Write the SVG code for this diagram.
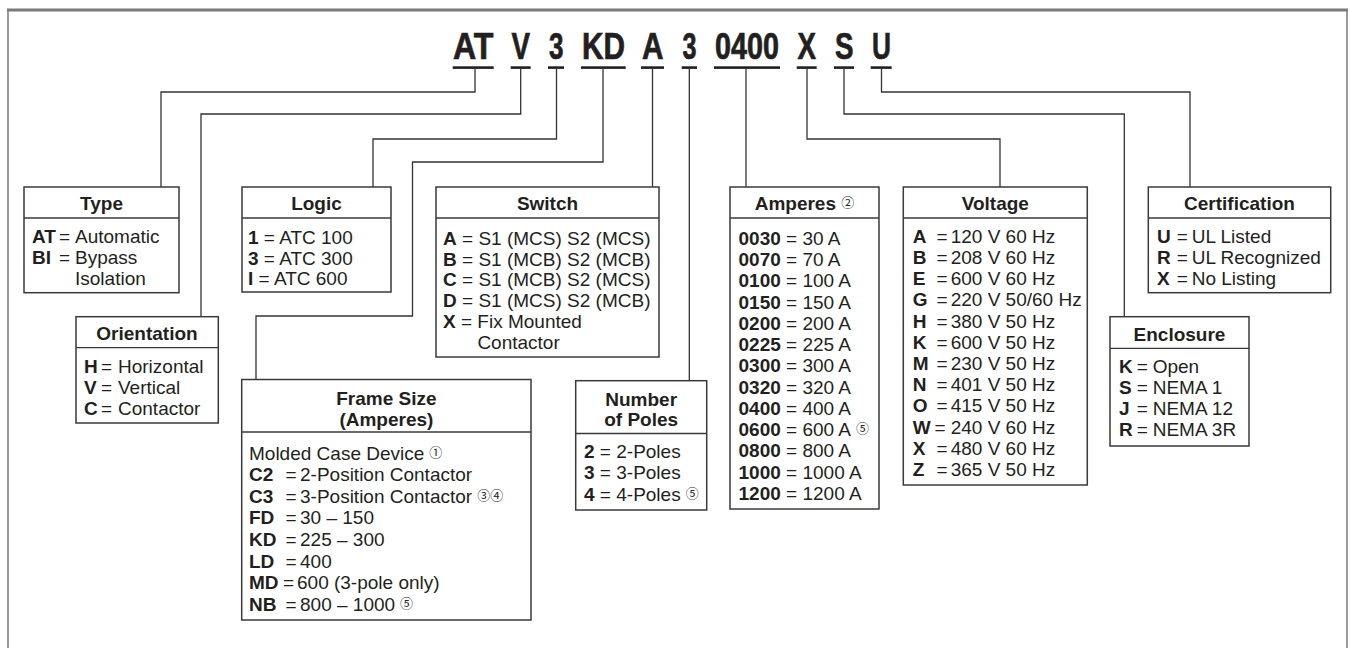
<svg xmlns="http://www.w3.org/2000/svg" width="1350" height="648" viewBox="0 0 1350 648">
<style>
.frame{fill:none;stroke:#7a7a7a;stroke-width:1.5}
.box{fill:#fff;stroke:#3a3a3a;stroke-width:1.5}
.sep{stroke:#3a3a3a;stroke-width:1.3}
.conn{fill:none;stroke:#333;stroke-width:1.3}
.code{font-family:"Liberation Sans",Arial,sans-serif;font-weight:bold;font-size:36px;fill:#231f20;stroke:#231f20;stroke-width:0.7}
.ul{fill:#231f20}
.h{font-family:"Liberation Sans",Arial,sans-serif;font-weight:bold;font-size:19px;fill:#231f20;text-anchor:middle}
.t{font-family:"Liberation Sans",Arial,sans-serif;font-size:19px;fill:#231f20}
.b{font-weight:bold}
.c{font-family:"Noto Sans CJK JP","DejaVu Sans",sans-serif;font-size:13px;font-weight:normal}
</style>
<rect x="8" y="10" width="1339" height="700" class="frame"/>
<line x1="7" y1="10" x2="1348" y2="10" stroke="#7a7a7a" stroke-width="3"/>

<g id="code">
<text class="code" x="453" y="59" textLength="40.5" lengthAdjust="spacingAndGlyphs">AT</text>
<text class="code" x="511.5" y="59" textLength="18.5" lengthAdjust="spacingAndGlyphs">V</text>
<text class="code" x="549" y="59" textLength="14.5" lengthAdjust="spacingAndGlyphs">3</text>
<text class="code" x="582" y="59" textLength="43" lengthAdjust="spacingAndGlyphs">KD</text>
<text class="code" x="642" y="59" textLength="21.5" lengthAdjust="spacingAndGlyphs">A</text>
<text class="code" x="682.5" y="59" textLength="14" lengthAdjust="spacingAndGlyphs">3</text>
<text class="code" x="715" y="59" textLength="64" lengthAdjust="spacingAndGlyphs">0400</text>
<text class="code" x="797.5" y="59" textLength="18.5" lengthAdjust="spacingAndGlyphs">X</text>
<text class="code" x="835" y="59" textLength="18.5" lengthAdjust="spacingAndGlyphs">S</text>
<text class="code" x="872" y="59" textLength="19" lengthAdjust="spacingAndGlyphs">U</text>
<rect class="ul" x="452.7" y="66.3" width="41" height="2.6"/>
<rect class="ul" x="510.7" y="66.3" width="20" height="2.6"/>
<rect class="ul" x="548" y="66.3" width="16" height="2.6"/>
<rect class="ul" x="581" y="66.3" width="44.7" height="2.6"/>
<rect class="ul" x="641" y="66.3" width="23" height="2.6"/>
<rect class="ul" x="681.7" y="66.3" width="15.3" height="2.6"/>
<rect class="ul" x="714" y="66.3" width="66" height="2.6"/>
<rect class="ul" x="796.7" y="66.3" width="20" height="2.6"/>
<rect class="ul" x="834" y="66.3" width="20" height="2.6"/>
<rect class="ul" x="870.7" y="66.3" width="21" height="2.6"/>
</g>

<g id="connectors">
<path class="conn" d="M475,68 V92 H161 V187"/>
<path class="conn" d="M520.7,68 V114 H201 V316.7"/>
<path class="conn" d="M556.5,68 V139 H373 V187"/>
<path class="conn" d="M603,68 V162 H412.5 V316 H256 V379.5"/>
<path class="conn" d="M652.5,68 V187"/>
<path class="conn" d="M689.3,68 V380.7"/>
<path class="conn" d="M746,68 V187"/>
<path class="conn" d="M807,68 V139 H1000 V187"/>
<path class="conn" d="M844,68 V114 H1124.3 V316.7"/>
<path class="conn" d="M881.5,68 V92 H1190 V187"/>
</g>

<g id="type">
<rect class="box" x="24" y="187" width="155" height="105.7"/>
<line class="sep" x1="24" y1="218" x2="179" y2="218"/>
<text class="h" x="101.5" y="210.4">Type</text>
<text class="t" y="243"><tspan class="b" x="32">AT</tspan><tspan x="59">=</tspan><tspan x="75">Automatic</tspan></text>
<text class="t" y="264"><tspan class="b" x="32">BI</tspan><tspan x="59">=</tspan><tspan x="75">Bypass</tspan></text>
<text class="t" y="285" x="75">Isolation</text>
</g>

<g id="orientation">
<rect class="box" x="76" y="316.7" width="142.3" height="106.3"/>
<line class="sep" x1="76" y1="347.7" x2="218.3" y2="347.7"/>
<text class="h" x="147" y="340">Orientation</text>
<text class="t" y="372.5"><tspan class="b" x="84">H</tspan><tspan x="101">=</tspan><tspan x="118">Horizontal</tspan></text>
<text class="t" y="393.5"><tspan class="b" x="84">V</tspan><tspan x="101">=</tspan><tspan x="118">Vertical</tspan></text>
<text class="t" y="414.5"><tspan class="b" x="84">C</tspan><tspan x="101">=</tspan><tspan x="118">Contactor</tspan></text>
</g>

<g id="logic">
<rect class="box" x="242" y="187" width="149" height="105"/>
<line class="sep" x1="242" y1="218" x2="391" y2="218"/>
<text class="h" x="316.5" y="210.4">Logic</text>
<text class="t" x="248" y="243.8"><tspan class="b">1</tspan> = ATC 100</text>
<text class="t" x="248" y="264.5"><tspan class="b">3</tspan> = ATC 300</text>
<text class="t" y="285"><tspan class="b" x="248">I</tspan><tspan x="258.6">= ATC 600</tspan></text>
</g>

<g id="switch">
<rect class="box" x="436" y="187" width="223" height="170"/>
<line class="sep" x1="436" y1="218" x2="659" y2="218"/>
<text class="h" x="547.5" y="210.4">Switch</text>
<text class="t" x="443" y="244.8"><tspan class="b">A</tspan> = S1 (MCS) S2 (MCS)</text>
<text class="t" x="443" y="265.6"><tspan class="b">B</tspan> = S1 (MCB) S2 (MCB)</text>
<text class="t" x="443" y="286.4"><tspan class="b">C</tspan> = S1 (MCB) S2 (MCS)</text>
<text class="t" x="443" y="307.2"><tspan class="b">D</tspan> = S1 (MCS) S2 (MCB)</text>
<text class="t" x="443" y="328"><tspan class="b">X</tspan> = Fix Mounted</text>
<text class="t" y="348.8" x="477.4">Contactor</text>
</g>

<g id="frame-size">
<rect class="box" x="241.7" y="379.5" width="289.3" height="240.5"/>
<line class="sep" x1="241.7" y1="432" x2="531" y2="432"/>
<text class="h" x="386.4" y="404.8">Frame Size</text>
<text class="h" x="386.4" y="425.8">(Amperes)</text>
<text class="t" y="459.5" x="249">Molded Case Device<tspan class="c" dx="5" dy="-3">①</tspan></text>
<text class="t" y="481.1"><tspan class="b" x="249">C2</tspan><tspan x="285.5">=</tspan><tspan x="300">2-Position Contactor</tspan></text>
<text class="t" y="502.7"><tspan class="b" x="249">C3</tspan><tspan x="285.5">=</tspan><tspan x="300">3-Position Contactor</tspan><tspan class="c" dx="5" dy="-3">③④</tspan></text>
<text class="t" y="524.3"><tspan class="b" x="249">FD</tspan><tspan x="285.5">=</tspan><tspan x="300">30 – 150</tspan></text>
<text class="t" y="545.9"><tspan class="b" x="249">KD</tspan><tspan x="285.5">=</tspan><tspan x="300">225 – 300</tspan></text>
<text class="t" y="567.5"><tspan class="b" x="249">LD</tspan><tspan x="285.5">=</tspan><tspan x="300">400</tspan></text>
<text class="t" y="589.1"><tspan class="b" x="249">MD</tspan><tspan x="283">=</tspan><tspan x="297">600 (3-pole only)</tspan></text>
<text class="t" y="610.7"><tspan class="b" x="249">NB</tspan><tspan x="285.5">=</tspan><tspan x="300">800 – 1000</tspan><tspan class="c" dx="5" dy="-3">⑤</tspan></text>
</g>

<g id="poles">
<rect class="box" x="575.7" y="380.7" width="131" height="129.3"/>
<line class="sep" x1="575.7" y1="433.5" x2="706.7" y2="433.5"/>
<text class="h" x="641.2" y="405.8">Number</text>
<text class="h" x="641.2" y="425.8">of Poles</text>
<text class="t" x="584" y="457.5"><tspan class="b">2</tspan> = 2-Poles</text>
<text class="t" x="584" y="479"><tspan class="b">3</tspan> = 3-Poles</text>
<text class="t" x="584" y="500.5"><tspan class="b">4</tspan> = 4-Poles<tspan class="c" dx="5" dy="-3">⑤</tspan></text>
</g>

<g id="amperes">
<rect class="box" x="730" y="187" width="149" height="322"/>
<line class="sep" x1="730" y1="218" x2="879" y2="218"/>
<text class="h" x="804.5" y="210.4">Amperes <tspan class="c" dy="-3">②</tspan></text>
<text class="t" x="738.5" y="244.8"><tspan class="b">0030</tspan> = 30 A</text>
<text class="t" x="738.5" y="266.05"><tspan class="b">0070</tspan> = 70 A</text>
<text class="t" x="738.5" y="287.3"><tspan class="b">0100</tspan> = 100 A</text>
<text class="t" x="738.5" y="308.55"><tspan class="b">0150</tspan> = 150 A</text>
<text class="t" x="738.5" y="329.8"><tspan class="b">0200</tspan> = 200 A</text>
<text class="t" x="738.5" y="351.05"><tspan class="b">0225</tspan> = 225 A</text>
<text class="t" x="738.5" y="372.3"><tspan class="b">0300</tspan> = 300 A</text>
<text class="t" x="738.5" y="393.55"><tspan class="b">0320</tspan> = 320 A</text>
<text class="t" x="738.5" y="414.8"><tspan class="b">0400</tspan> = 400 A</text>
<text class="t" x="738.5" y="436.05"><tspan class="b">0600</tspan> = 600 A<tspan class="c" dx="5" dy="-3">⑤</tspan></text>
<text class="t" x="738.5" y="457.3"><tspan class="b">0800</tspan> = 800 A</text>
<text class="t" x="738.5" y="478.55"><tspan class="b">1000</tspan> = 1000 A</text>
<text class="t" x="738.5" y="499.8"><tspan class="b">1200</tspan> = 1200 A</text>
</g>

<g id="voltage">
<rect class="box" x="903.3" y="187" width="184" height="298"/>
<line class="sep" x1="903.3" y1="218" x2="1087.3" y2="218"/>
<text class="h" x="995.3" y="210.4">Voltage</text>
<text class="t" y="242.8"><tspan class="b" x="912.7">A</tspan><tspan x="936.5">=</tspan><tspan x="950.7">120 V 60 Hz</tspan></text>
<text class="t" y="264"><tspan class="b" x="912.7">B</tspan><tspan x="936.5">=</tspan><tspan x="950.7">208 V 60 Hz</tspan></text>
<text class="t" y="285.2"><tspan class="b" x="912.7">E</tspan><tspan x="936.5">=</tspan><tspan x="950.7">600 V 60 Hz</tspan></text>
<text class="t" y="306.4"><tspan class="b" x="912.7">G</tspan><tspan x="936.5">=</tspan><tspan x="950.7">220 V 50/60 Hz</tspan></text>
<text class="t" y="327.6"><tspan class="b" x="912.7">H</tspan><tspan x="936.5">=</tspan><tspan x="950.7">380 V 50 Hz</tspan></text>
<text class="t" y="348.8"><tspan class="b" x="912.7">K</tspan><tspan x="936.5">=</tspan><tspan x="950.7">600 V 50 Hz</tspan></text>
<text class="t" y="370"><tspan class="b" x="912.7">M</tspan><tspan x="936.5">=</tspan><tspan x="950.7">230 V 50 Hz</tspan></text>
<text class="t" y="391.2"><tspan class="b" x="912.7">N</tspan><tspan x="936.5">=</tspan><tspan x="950.7">401 V 50 Hz</tspan></text>
<text class="t" y="412.4"><tspan class="b" x="912.7">O</tspan><tspan x="936.5">=</tspan><tspan x="950.7">415 V 50 Hz</tspan></text>
<text class="t" y="433.6"><tspan class="b" x="912.7">W</tspan><tspan x="934.5">=</tspan><tspan x="950.7">240 V 60 Hz</tspan></text>
<text class="t" y="454.8"><tspan class="b" x="912.7">X</tspan><tspan x="936.5">=</tspan><tspan x="950.7">480 V 60 Hz</tspan></text>
<text class="t" y="476"><tspan class="b" x="912.7">Z</tspan><tspan x="936.5">=</tspan><tspan x="950.7">365 V 50 Hz</tspan></text>
</g>

<g id="certification">
<rect class="box" x="1148.3" y="187" width="182.4" height="105.7"/>
<line class="sep" x1="1148.3" y1="218" x2="1330.7" y2="218"/>
<text class="h" x="1239.5" y="210.4">Certification</text>
<text class="t" y="242.8"><tspan class="b" x="1157">U</tspan><tspan x="1176.7">=</tspan><tspan x="1191.7">UL Listed</tspan></text>
<text class="t" y="263.8"><tspan class="b" x="1157">R</tspan><tspan x="1176.7">=</tspan><tspan x="1191.7">UL Recognized</tspan></text>
<text class="t" y="284.8"><tspan class="b" x="1157">X</tspan><tspan x="1176.7">=</tspan><tspan x="1191.7">No Listing</tspan></text>
</g>

<g id="enclosure">
<rect class="box" x="1110" y="316.7" width="139" height="129.3"/>
<line class="sep" x1="1110" y1="348.3" x2="1249" y2="348.3"/>
<text class="h" x="1179.5" y="341">Enclosure</text>
<text class="t" y="372.5"><tspan class="b" x="1119">K</tspan><tspan x="1136.7">=</tspan><tspan x="1152.7">Open</tspan></text>
<text class="t" y="393.5"><tspan class="b" x="1119">S</tspan><tspan x="1136.7">=</tspan><tspan x="1152.7">NEMA 1</tspan></text>
<text class="t" y="414.5"><tspan class="b" x="1119">J</tspan><tspan x="1136.7">=</tspan><tspan x="1152.7">NEMA 12</tspan></text>
<text class="t" y="435.5"><tspan class="b" x="1119">R</tspan><tspan x="1136.7">=</tspan><tspan x="1152.7">NEMA 3R</tspan></text>
</g>
</svg>
